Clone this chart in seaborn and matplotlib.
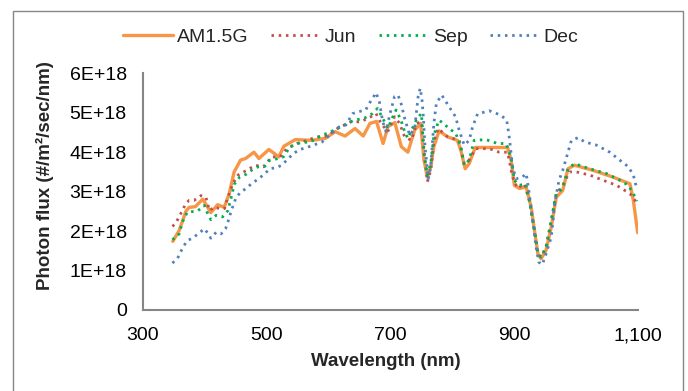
import numpy as np
import pandas as pd
import matplotlib
matplotlib.use("Agg")
import matplotlib.pyplot as plt
from matplotlib.patches import Rectangle
import seaborn as sns

# ---------------- data (flux in units of 1E+18 photons/m2/sec/nm) ----------------
am_wl = [348.6, 359, 370, 375, 385, 397, 410, 421, 431.5, 439.5, 447.6, 458, 466, 479.6,
         487.6, 503.7, 519.7, 527.7, 546.5, 573, 594.6, 610.6, 626.7, 642.7, 656, 666.8,
         677.4, 688, 696, 707, 717.5, 728, 739, 748.6, 754, 759.5, 765, 770, 778.4, 792,
         808, 813.5, 820.5, 827, 836.8, 854, 889, 894.6, 900, 908, 919, 927, 932.4, 938,
         943, 951, 959.5, 967.6, 978, 986.5, 997, 1027, 1059, 1086.5, 1092, 1099]
am_flux = [1.74, 2.02, 2.51, 2.60, 2.62, 2.81, 2.47, 2.67, 2.60, 2.94, 3.50, 3.80, 3.84, 4.00,
           3.84, 4.07, 3.88, 4.15, 4.32, 4.30, 4.35, 4.52, 4.41, 4.60, 4.41, 4.73,
           4.78, 4.22, 4.65, 4.75, 4.14, 4.00, 4.56, 4.73, 3.80, 3.37, 3.63, 4.14, 4.54, 4.39,
           4.30, 4.05, 3.58, 3.71, 4.12, 4.12, 4.12, 3.80, 3.16, 3.08, 3.12, 2.61, 2.02, 1.42,
           1.30, 1.51, 2.10, 2.86, 3.03, 3.58, 3.67, 3.54, 3.37, 3.20, 2.78, 1.96]

jun_wl = [348, 353, 364, 369.6, 375, 383, 394, 402, 407.6, 415.8, 424, 432, 437.5, 445.6,
          453.8, 470, 481, 494.6, 508, 521.7, 532.6, 549, 565, 581.5, 598, 614, 636, 652,
          668.5, 676.6, 684.8, 695.6, 706.5, 714.7, 722.8, 733.7, 742, 750, 755.7, 759.5,
          765, 770, 777, 792, 811, 819, 827, 837, 859.5, 875.7, 889, 897, 905, 916, 924,
          932.4, 938, 943, 951, 959.5, 967.6, 978, 989, 1000, 1021.6, 1043, 1065, 1086.5,
          1094.6, 1098]
jun_flux = [2.12, 2.19, 2.52, 2.70, 2.78, 2.78, 2.90, 2.86, 2.52, 2.61, 2.57, 2.57, 2.86, 3.20,
            3.42, 3.56, 3.67, 3.63, 3.88, 3.88, 4.09, 4.22, 4.30, 4.39, 4.41, 4.60, 4.77, 4.77,
            4.90, 4.98, 4.73, 4.52, 4.90, 4.73, 4.39, 4.30, 4.73, 4.77, 3.80, 3.25,
            3.54, 4.26, 4.60, 4.39, 4.30, 3.71, 3.80, 4.09, 4.09, 4.00, 4.00, 3.37, 3.08, 3.20, 2.78,
            2.02, 1.42, 1.34, 1.59, 2.27, 2.95, 3.16, 3.50, 3.50, 3.42, 3.29, 3.16, 2.95,
            2.78, 2.72]

sep_wl = [348, 359, 364, 372, 388.6, 399.5, 405, 410, 418.5, 429, 437.5, 443, 448, 456.5,
          467, 475.5, 486.4, 497, 505.4, 516, 527, 538, 554, 570.7, 587, 603.5, 619.6, 641,
          657.6, 671, 679, 687.5, 695.6, 703.8, 709, 717, 722.8, 728, 736.4, 743, 750, 754,
          759.5, 765, 770, 778, 786, 794, 805, 813.5, 819, 827, 835, 854, 873, 886.5, 894.6,
          900, 908, 918, 924, 932.4, 938, 943, 951, 959.5, 967.6, 978, 986.5, 997, 1021.6,
          1048.6, 1070, 1084, 1092, 1098]
sep_flux = [1.78, 1.93, 2.23, 2.48, 2.51, 2.65, 2.44, 2.29, 2.40, 2.36, 2.52, 2.86, 3.19, 3.37,
            3.44, 3.54, 3.63, 3.64, 3.80, 3.83, 3.88, 4.14, 4.24, 4.26, 4.41, 4.52, 4.64, 4.81,
            4.86, 4.98, 5.11, 4.86, 4.60, 4.90, 5.07, 4.81, 4.52, 4.35, 4.64, 4.86, 4.98, 3.97,
            3.42, 3.71, 4.43, 4.81, 4.73, 4.60, 4.49, 4.14, 3.67, 3.80, 4.30, 4.32, 4.22, 4.22, 3.88,
            3.29, 3.16, 3.20, 2.78, 2.02, 1.42, 1.34, 1.59, 2.27, 2.95, 3.08, 3.58, 3.71, 3.58,
            3.46, 3.29, 3.16, 2.95, 2.76]

dec_wl = [348, 356, 361, 367, 372, 380.4, 391, 399.5, 405, 410, 418.5, 426.6, 433.7, 437.5,
          443, 451, 459, 467, 475.5, 483.7, 494.6, 505.4, 516, 524.5, 532.6, 543.5, 554, 565,
          576, 589.7, 603.5, 617, 628, 639, 649.5, 660, 665.8, 671, 676.6, 682, 687.5, 693,
          698, 706.5, 712, 717, 722.8, 731, 739, 744.6, 748, 751, 753, 755.7, 761, 765, 767.6,
          770, 774, 782.7, 794.6, 805, 810.8, 819, 827, 832.4, 840.5, 859.5, 878, 887.6, 892,
          897, 902.7, 912.4, 919, 924, 929.7, 935, 939.5, 945, 951, 959.5, 965, 972, 978,
          986.5, 992, 1003, 1013.5, 1032.4, 1054, 1070, 1084, 1092, 1098]
dec_flux = [1.19, 1.30, 1.47, 1.64, 1.76, 1.82, 1.95, 2.06, 1.95, 1.82, 1.97, 1.93, 2.06, 2.23,
            2.52, 2.86, 3.00, 3.08, 3.20, 3.29, 3.42, 3.58, 3.61, 3.67, 3.80, 3.97, 4.07, 4.12,
            4.18, 4.26, 4.46, 4.64, 4.69, 4.98, 5.03, 5.07, 5.24, 5.36, 5.51, 5.28, 4.77, 4.52,
            4.90, 5.41, 5.45, 5.24, 4.86, 4.43, 4.60, 5.41, 5.62, 5.30, 4.90, 4.14, 3.33, 3.63, 4.22,
            4.73, 5.24, 5.45, 5.15, 4.90, 4.56, 4.18, 4.30, 4.64, 4.97, 5.05, 4.94, 4.81, 4.35,
            3.63, 3.33, 3.36, 3.46, 2.95, 2.27, 1.59, 1.21, 1.15, 1.42, 1.85, 2.69, 3.29, 3.54,
            4.00, 4.30, 4.37, 4.26, 4.18, 4.00, 3.80, 3.63, 3.42, 3.05]

series_names = ["AM1.5G", "Jun", "Sep", "Dec"]
x_ticks = [300, 500, 700, 900, 1100]
x_ticklabels = ["300", "500", "700", "900", "1,100"]
y_ticks = [0, 1, 2, 3, 4, 5, 6]
y_ticklabels = ["0", "1E+18", "2E+18", "3E+18", "4E+18", "5E+18", "6E+18"]

# ---------------- styling ----------------
sns.set_style("white")
plt.rcParams["font.family"] = ["Liberation Sans", "DejaVu Sans"]

W, H = 688, 391
fig = plt.figure(figsize=(W / 100, H / 100), dpi=100)
left, right, bottom, top = 142.7, 638.3, 310.0, 73.3
ax = fig.add_axes([left / W, 1 - bottom / H, (right - left) / W, (bottom - top) / H])

grey = "#868686"
colors = {"AM1.5G": "#F79646", "Jun": "#C0504D", "Sep": "#00B050", "Dec": "#4F81BD"}
dot = (0, (0.9, 1.7))

sns.lineplot(x=am_wl, y=am_flux, ax=ax, color=colors["AM1.5G"], lw=2.4,
             label="AM1.5G", sort=False, estimator=None)
sns.lineplot(x=jun_wl, y=jun_flux, ax=ax, color=colors["Jun"], lw=2.0, linestyle=dot,
             label="Jun", sort=False, estimator=None)
sns.lineplot(x=sep_wl, y=sep_flux, ax=ax, color=colors["Sep"], lw=2.0, linestyle=dot,
             label="Sep", sort=False, estimator=None)
sns.lineplot(x=dec_wl, y=dec_flux, ax=ax, color=colors["Dec"], lw=2.0, linestyle=dot,
             label="Dec", sort=False, estimator=None)

ax.set_xlim(300, 1100)
ax.set_ylim(0, 6)
ax.set_xticks(x_ticks)
ax.set_xticklabels(x_ticklabels)
ax.set_yticks(y_ticks)
ax.set_yticklabels(y_ticklabels)
ax.set_xlabel("")
ax.set_ylabel("")

for s in ["top", "right"]:
    ax.spines[s].set_visible(False)
for s in ["left", "bottom"]:
    ax.spines[s].set_color(grey)
    ax.spines[s].set_linewidth(1.5)
ax.tick_params(axis="both", which="major", direction="out", length=3.5, width=1.5,
               color=grey, labelsize=14, labelcolor="black")
ax.tick_params(axis="y", pad=8)
ax.tick_params(axis="x", pad=9)
ax.patch.set_alpha(0)

leg = ax.legend(loc="center", bbox_to_anchor=(351 / W, 1 - 36.7 / H),
                bbox_transform=fig.transFigure, ncol=4, frameon=False, fontsize=14,
                handlelength=2.57, handletextpad=0.2, columnspacing=1.15, borderpad=0)

fig.text(386 / W, 1 - 361 / H, "Wavelength (nm)", ha="center", va="center",
         fontsize=13.5, fontweight="bold")
fig.text(45 / W, 1 - 176 / H, "Photon flux (#/m²/sec/nm)", ha="center", va="center",
         rotation=90, fontsize=13.5, fontweight="bold")

fig.patches.append(Rectangle((13 / W, -0.05), 670 / W, 1.05 - 11 / H,
                             transform=fig.transFigure, fill=False, edgecolor=grey,
                             linewidth=1.0))

fig.savefig("out.png", dpi=100)
